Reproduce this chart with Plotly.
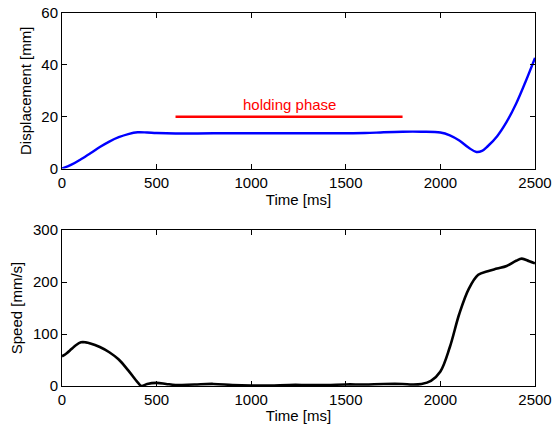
import plotly.graph_objects as go

# Displacement data
disp_time = [0, 50, 100, 150, 200, 250, 300, 350, 400, 450, 500, 600, 800, 1000, 1200, 1400, 1600,
             1700, 1800, 1900, 2000, 2050, 2100, 2150, 2190, 2220, 2250, 2300, 2350, 2400, 2450, 2500]
disp_mm = [0, 1.5, 3.6, 5.9, 8.3, 10.4, 12.1, 13.3, 14.0, 13.9, 13.7, 13.5, 13.6, 13.6, 13.6, 13.6, 13.7,
           14.0, 14.2, 14.2, 13.9, 12.8, 10.8, 8.0, 6.4, 6.8, 8.6, 12.5, 18.0, 25.0, 33.5, 42.7]

# Speed data
speed_time = [0, 25, 50, 75, 100, 125, 150, 200, 250, 300, 350, 400, 420, 450, 500, 550, 600, 700, 800,
              900, 1000, 1100, 1200, 1300, 1400, 1500, 1600, 1700, 1800, 1850, 1900, 1950, 2000, 2050,
              2100, 2150, 2200, 2250, 2300, 2350, 2400, 2430, 2470, 2500]
speed_mms = [57, 63, 71, 79, 84, 84, 82, 75, 65, 51, 30, 7, 0, 4, 6, 4, 2, 3, 4,
             2, 1, 1, 2, 2, 2, 3, 3, 4, 4, 3, 4, 10, 28, 75,
             139, 187, 214, 221, 226, 231, 241, 245, 240, 236]

# Holding phase marker
hold_time = [600, 1800]
hold_level = [20, 20]
hold_label = "holding phase"

FONT = "Liberation Sans, Arial, Helvetica, sans-serif"

fig = go.Figure()
fig.add_trace(go.Scatter(x=disp_time, y=disp_mm, mode="lines", line=dict(color="#0000ff", width=2.4, shape="spline"),
                         xaxis="x", yaxis="y", showlegend=False))
fig.add_trace(go.Scatter(x=hold_time, y=hold_level, mode="lines", line=dict(color="#ff0000", width=2.5),
                         xaxis="x", yaxis="y", showlegend=False))
fig.add_trace(go.Scatter(x=speed_time, y=speed_mms, mode="lines", line=dict(color="#000000", width=2.6, shape="spline"),
                         xaxis="x2", yaxis="y2", showlegend=False))

fig.add_annotation(x=1200, y=24.8, xref="x", yref="y", text=hold_label, showarrow=False,
                   font=dict(color="#ff0000", size=15, family=FONT))

axis_common = dict(showgrid=False, zeroline=False, showline=True, linecolor="black", linewidth=1,
                   mirror="ticks", ticks="inside", ticklen=5, tickcolor="black",
                   tickfont=dict(size=15, color="black", family=FONT))

fig.update_layout(
    width=552, height=424,
    margin=dict(l=62, r=17, t=13, b=38, autoexpand=False),
    paper_bgcolor="white", plot_bgcolor="white",
    font=dict(family=FONT, color="black", size=15),
    xaxis=dict(domain=[0, 1], anchor="y", range=[0, 2500], tickvals=[0, 500, 1000, 1500, 2000, 2500],
               title=dict(text="Time [ms]", font=dict(size=15), standoff=0), automargin=False, **axis_common),
    yaxis=dict(domain=[0.583, 1], anchor="x", range=[0, 60], tickvals=[0, 20, 40, 60],
               title=dict(text="Displacement [mm]", font=dict(size=15), standoff=6), automargin=False, **axis_common),
    xaxis2=dict(domain=[0, 1], anchor="y2", range=[0, 2500], tickvals=[0, 500, 1000, 1500, 2000, 2500],
                title=dict(text="Time [ms]", font=dict(size=15), standoff=0), automargin=False, **axis_common),
    yaxis2=dict(domain=[0, 0.418], anchor="x2", range=[0, 300], tickvals=[0, 100, 200, 300],
                title=dict(text="Speed [mm/s]", font=dict(size=15), standoff=6), automargin=False, **axis_common),
)

fig.write_html("out.html", config={"displayModeBar": False},
               post_script="document.body.style.margin='0';")
